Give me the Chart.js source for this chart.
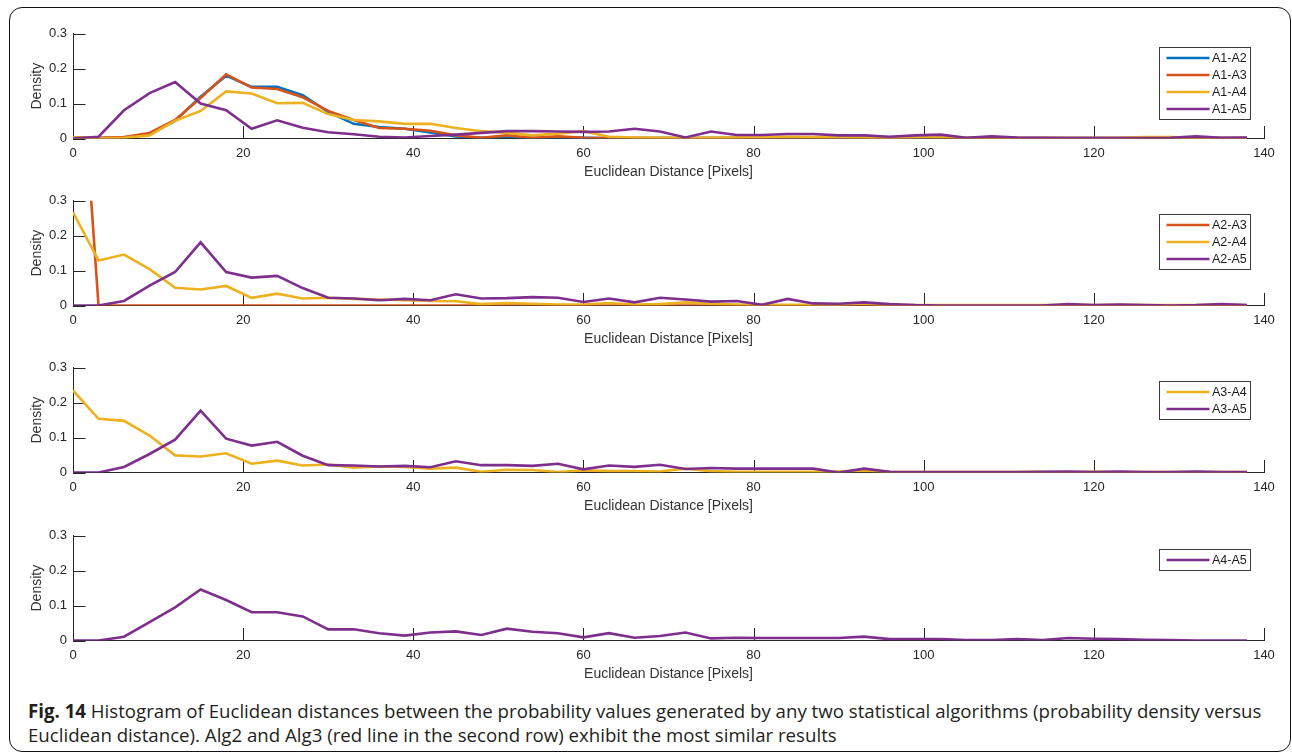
<!DOCTYPE html>
<html><head><meta charset="utf-8">
<script src="https://cdn.jsdelivr.net/npm/chart.js@4.4.0/dist/chart.umd.min.js"></script>
<style>
html,body{margin:0;padding:0;background:#fff;}
body{width:1292px;height:755px;position:relative;overflow:hidden;}
#frame{position:absolute;left:9px;top:7px;width:1282px;height:745px;border:1.6px solid #111;border-radius:13px;box-sizing:border-box;}
.panel{position:absolute;left:0;width:1292px;height:167px;}
#caption{position:absolute;left:28px;top:699px;font-family:'Open Sans';font-size:17px;line-height:24px;color:#231f20;white-space:nowrap;}
#caption b{font-weight:700;}
</style></head>
<body>
<div id="frame"></div>
<canvas id="c1" class="panel" width="1292" height="167" style="top:20px"></canvas>
<canvas id="c2" class="panel" width="1292" height="167" style="top:187.3px"></canvas>
<canvas id="c3" class="panel" width="1292" height="167" style="top:354.3px"></canvas>
<canvas id="c4" class="panel" width="1292" height="167" style="top:522.3px"></canvas>
<div id="caption"><span id="cap1"><b>Fig. 14</b> Histogram of Euclidean distances between the probability values generated by any two statistical algorithms (probability density versus</span><br>Euclidean distance). Alg2 and Alg3 (red line in the second row) exhibit the most similar results</div>
<script>
// ---- data ----
const distances = [0,3,6,9,12,15,18,21,24,27,30,33,36,39,42,45,48,51,54,57,60,63,66,69,72,75,78,81,84,87,90,93,96,99,102,105,108,111,114,117,120,123,126,129,132,135,138];
const xTickValues = [0,20,40,60,80,100,120,140];
const xTickLabels = ['0','20','40','60','80','100','120','140'];
const yTickValues = [0,0.1,0.2,0.3];
const yTickLabels = ['0','0.1','0.2','0.3'];

const labels1 = ['A1-A2','A1-A3','A1-A4','A1-A5'];
const a1a2 = [0.002,0.001,0.003,0.012,0.05,0.12,0.18,0.148,0.148,0.124,0.076,0.042,0.033,0.028,0.017,0.006,0.002,0.005,0.002,0.004,0.002,0.001,0.001,0.001,0.001,0.001,0.001,0.001,0.001,0.001,0.001,0.001,0.001,0.003,0.001,0.001,0.001,0.001,0.001,0.001,0.001,0.001,0.001,0.001,0.002,0.001,0.001];
const a1a3 = [0.003,0.002,0.004,0.016,0.053,0.116,0.184,0.146,0.142,0.118,0.079,0.053,0.03,0.028,0.022,0.009,0.002,0.009,0.002,0.006,0.002,0.001,0.001,0.001,0.001,0.001,0.002,0.001,0.001,0.001,0.001,0.002,0.001,0.004,0.002,0.001,0.001,0.001,0.001,0.001,0.001,0.001,0.001,0.001,0.003,0.001,0.001];
const a1a4 = [0.003,0.0,0.002,0.009,0.051,0.079,0.135,0.129,0.101,0.102,0.07,0.053,0.049,0.042,0.042,0.03,0.021,0.016,0.009,0.014,0.021,0.005,0.003,0.002,0.002,0.002,0.003,0.004,0.005,0.004,0.004,0.003,0.002,0.004,0.005,0.002,0.002,0.001,0.001,0.001,0.001,0.002,0.004,0.004,0.002,0.001,0.001];
const a1a5 = [0,0.005,0.081,0.13,0.162,0.10,0.081,0.028,0.052,0.031,0.018,0.012,0.005,0.003,0.007,0.011,0.016,0.021,0.021,0.02,0.019,0.02,0.028,0.02,0.003,0.02,0.01,0.01,0.013,0.013,0.009,0.009,0.005,0.009,0.011,0.002,0.006,0.003,0.002,0.001,0.001,0.001,0.001,0.002,0.006,0.002,0.003];

const labels2 = ['A2-A3','A2-A4','A2-A5'];
const a2a3 = [1.05,0,0,0,0,0,0,0,0,0,0,0,0,0,0,0,0,0,0,0,0,0,0,0,0,0,0,0,0,0,0,0,0,0,0,0,0,0,0,0,0,0,0,0,0,0,0];
const a2a4 = [0.267,0.129,0.146,0.104,0.051,0.046,0.056,0.022,0.034,0.02,0.022,0.019,0.017,0.015,0.013,0.012,0.004,0.007,0.005,0.003,0.003,0.007,0.003,0.004,0.009,0.005,0.003,0.002,0.002,0.002,0.002,0.005,0.001,0.001,0.001,0.001,0.001,0.001,0.001,0.002,0.001,0.002,0.001,0.001,0.001,0.002,0.001];
const a2a5 = [0,0,0.013,0.057,0.096,0.181,0.096,0.08,0.085,0.05,0.022,0.02,0.015,0.019,0.015,0.032,0.02,0.021,0.024,0.022,0.01,0.02,0.009,0.022,0.017,0.011,0.013,0.002,0.019,0.006,0.005,0.009,0.004,0.001,0,0,0,0,0,0.004,0.001,0.003,0.001,0,0.001,0.004,0.001];

const labels3 = ['A3-A4','A3-A5'];
const a3a4 = [0.235,0.154,0.148,0.106,0.049,0.046,0.055,0.025,0.034,0.02,0.023,0.014,0.017,0.016,0.011,0.014,0.002,0.008,0.007,0.001,0.006,0.004,0.004,0.003,0.011,0.004,0.002,0.002,0.002,0.002,0.003,0.005,0.002,0.001,0.001,0.001,0.001,0.001,0.002,0.001,0.002,0.001,0.001,0.001,0.001,0.001,0.001];
const a3a5 = [0,0,0.016,0.053,0.094,0.177,0.097,0.077,0.088,0.048,0.021,0.02,0.017,0.019,0.015,0.032,0.021,0.021,0.019,0.025,0.009,0.02,0.016,0.022,0.01,0.013,0.011,0.011,0.011,0.011,0.0,0.011,0.002,0.001,0.001,0.001,0.001,0.001,0.002,0.003,0.001,0.003,0.001,0.001,0.003,0.001,0.001];

const labels4 = ['A4-A5'];
const a4a5 = [0,0,0.011,0.053,0.095,0.146,0.116,0.081,0.081,0.069,0.032,0.032,0.021,0.014,0.023,0.026,0.016,0.034,0.025,0.021,0.009,0.021,0.008,0.013,0.023,0.006,0.008,0.007,0.007,0.007,0.007,0.011,0.004,0.004,0.004,0.001,0.001,0.004,0.001,0.007,0.005,0.004,0.002,0.001,0,0,0];

const BLUE='#0072BD', RED='#D95319', YELLOW='#EDB120', PURPLE='#7E2F8E';
const AXIS='#262626';
const FONT='"Liberation Sans", Arial, Helvetica, sans-serif';

// ---- plugins ----
const inwardTicks = {
  id:'inwardTicks',
  beforeDatasetsDraw(chart){
    const {ctx, chartArea:a, scales:{x,y}} = chart;
    const L = 12.5;
    ctx.save();
    ctx.strokeStyle = AXIS; ctx.lineWidth = 1;
    ctx.beginPath();
    x.ticks.forEach(t=>{ const px = Math.round(x.getPixelForValue(t.value))+0.5; ctx.moveTo(px,a.bottom); ctx.lineTo(px,a.bottom-L); });
    y.ticks.forEach(t=>{ const py = Math.round(y.getPixelForValue(t.value))+0.5; ctx.moveTo(a.left,py); ctx.lineTo(a.left+L,py); });
    ctx.stroke();
    ctx.restore();
  }
};
const boxLegend = {
  id:'boxLegend',
  afterDatasetsDraw(chart){
    const {ctx, chartArea:a} = chart;
    const ds = chart.data.datasets;
    const n = ds.length;
    const left = Math.round(a.right-105)+0.5, right = Math.round(a.right-14)+0.5;
    const top = Math.round(a.top+13.3)+0.5;
    const h = Math.round(17*n+4);
    ctx.save();
    ctx.fillStyle='#fff'; ctx.fillRect(left,top,right-left,h);
    ctx.strokeStyle='#3a3a3a'; ctx.lineWidth=1; ctx.strokeRect(left,top,right-left,h);
    ds.forEach((d,i)=>{
      const cy = top + 10.5 + 17*i;
      ctx.strokeStyle=d.borderColor; ctx.lineWidth=2.6; ctx.lineCap='butt';
      ctx.beginPath(); ctx.moveTo(left+7,cy); ctx.lineTo(left+50,cy); ctx.stroke();
      ctx.fillStyle='#1a1a1a'; ctx.font='12.5px '+FONT; ctx.textBaseline='middle'; ctx.textAlign='left';
      ctx.fillText(d.label,left+52.5,cy+0.5);
    });
    ctx.restore();
  }
};

function makeChart(id, labels, series, colors){
  const n = series.length;
  const datasets = series.map((vals,i)=>({
    label: labels[i],
    data: distances.map((d,j)=>({x:d,y:vals[j]})),
    borderColor: colors[i],
    backgroundColor: colors[i],
    borderWidth: 2.6,
    pointRadius: 0,
    tension: 0,
    fill: false,
    order: n-i
  }));
  return new Chart(document.getElementById(id), {
    type:'line',
    data:{datasets},
    plugins:[inwardTicks, boxLegend],
    options:{
      responsive:false, animation:false, devicePixelRatio:1,
      layout:{padding:{left:0,right:28,top:11,bottom:0}},
      plugins:{legend:{display:false}, tooltip:{enabled:false}},
      scales:{
        x:{
          type:'linear', min:0, max:140,
          afterBuildTicks(s){ s.ticks = xTickValues.map(v=>({value:v})); },
          afterFit(s){ s.height = 48.5; },
          ticks:{ color:AXIS, font:{family:FONT,size:13}, padding:7, maxRotation:0, autoSkip:false,
                  callback:(v,i)=>xTickLabels[i] },
          grid:{ display:true, drawOnChartArea:false, drawTicks:false },
          border:{ display:true, color:AXIS, width:1 },
          title:{ display:true, text:'Euclidean Distance [Pixels]', color:'#333', font:{family:FONT,size:14}, padding:{top:0,bottom:6.4} }
        },
        y:{
          min:0, max:0.3,
          afterBuildTicks(s){ s.ticks = yTickValues.map(v=>({value:v})); },
          afterFit(s){ s.width = 73; },
          ticks:{ color:AXIS, font:{family:FONT,size:13}, padding:6, autoSkip:false,
                  callback:(v,i)=>yTickLabels[i] },
          grid:{ display:true, drawOnChartArea:false, drawTicks:false },
          border:{ display:true, color:AXIS, width:1 },
          title:{ display:true, text:'Density', color:'#333', font:{family:FONT,size:14}, padding:{top:28.6,bottom:0} }
        }
      }
    }
  });
}

makeChart('c1', labels1, [a1a2,a1a3,a1a4,a1a5], [BLUE,RED,YELLOW,PURPLE]);
makeChart('c2', labels2, [a2a3,a2a4,a2a5], [RED,YELLOW,PURPLE]);
makeChart('c3', labels3, [a3a4,a3a5], [YELLOW,PURPLE]);
makeChart('c4', labels4, [a4a5], [PURPLE]);

// fit caption first line to reference width
(function(){
  const cap = document.getElementById('caption');
  const l1 = document.getElementById('cap1');
  const w = l1.getBoundingClientRect().width;
  if (w > 0) cap.style.fontSize = (17*1234/w).toFixed(2)+'px';
})();
</script>
</body></html>
